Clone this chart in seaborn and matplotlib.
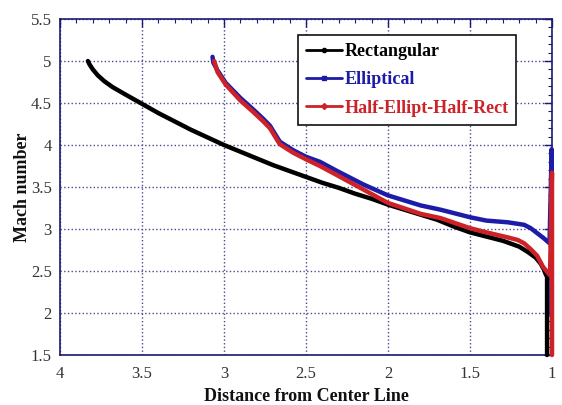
import matplotlib
matplotlib.use("Agg")
import matplotlib.pyplot as plt
from matplotlib.ticker import MultipleLocator, FuncFormatter
from matplotlib.lines import Line2D
import seaborn as sns
import pandas as pd

# ---- data ----
series_names = ["Rectangular", "Elliptical", "Half-Ellipt-Half-Rect"]

rect_x = [3.83, 3.82, 3.80, 3.77, 3.73, 3.68, 3.60, 3.50, 3.40, 3.30, 3.20, 3.10, 3.00,
          2.90, 2.80, 2.70, 2.60, 2.50, 2.40, 2.30, 2.20, 2.10, 2.00, 1.90, 1.80, 1.70,
          1.60, 1.50, 1.40, 1.30, 1.20, 1.15, 1.10, 1.07, 1.05, 1.04, 1.03, 1.03]
rect_y = [5.00, 4.96, 4.90, 4.83, 4.76, 4.69, 4.60, 4.49, 4.38, 4.28, 4.18, 4.09, 4.00,
          3.92, 3.84, 3.76, 3.69, 3.62, 3.55, 3.49, 3.42, 3.36, 3.29, 3.23, 3.17, 3.11,
          3.03, 2.96, 2.91, 2.86, 2.79, 2.73, 2.66, 2.59, 2.52, 2.47, 2.43, 1.50]

ell_x = [3.07, 3.065, 3.04, 2.99, 2.90, 2.82, 2.76, 2.72, 2.66, 2.58, 2.50, 2.415, 2.31,
         2.15, 2.00, 1.80, 1.68, 1.56, 1.50, 1.40, 1.27, 1.17, 1.13, 1.09, 1.05, 1.015,
         1.002, 1.004]
ell_y = [5.05, 4.98, 4.89, 4.74, 4.56, 4.42, 4.31, 4.23, 4.04, 3.94, 3.86, 3.80, 3.69,
         3.53, 3.40, 3.28, 3.23, 3.17, 3.14, 3.10, 3.08, 3.05, 3.01, 2.95, 2.89, 2.83,
         3.95, 1.97]

half_x = [3.06, 3.055, 3.04, 2.99, 2.90, 2.82, 2.76, 2.72, 2.66, 2.58, 2.50, 2.415, 2.31,
          2.15, 2.00, 1.80, 1.68, 1.50, 1.40, 1.27, 1.21, 1.17, 1.13, 1.09, 1.055, 1.03,
          1.012, 1.0, 1.0]
half_y = [5.00, 4.97, 4.87, 4.72, 4.53, 4.39, 4.28, 4.20, 4.01, 3.91, 3.83, 3.75, 3.64,
          3.47, 3.31, 3.18, 3.13, 3.01, 2.96, 2.90, 2.87, 2.83, 2.76, 2.68, 2.55, 2.49,
          2.45, 3.67, 1.50]

x_ticks = [4, 3.5, 3, 2.5, 2, 1.5, 1]
y_ticks = [1.5, 2, 2.5, 3, 3.5, 4, 4.5, 5, 5.5]

colors = ["#000000", "#1c1ca8", "#cc2228"]
markers = ["o", "s", "D"]

frames = []
for name, xs, ys in zip(series_names, [rect_x, ell_x, half_x], [rect_y, ell_y, half_y]):
    frames.append(pd.DataFrame({"x": xs, "y": ys, "series": name}))
df = pd.concat(frames, ignore_index=True)

# ---- style ----
sns.set_theme(style="white")
plt.rcParams["font.family"] = ["Liberation Serif", "DejaVu Serif"]

fig = plt.figure(figsize=(5.62, 4.05), dpi=100)
ax = fig.add_axes([0.1068, 0.1235, 0.8754, 0.8295])

sns.lineplot(data=df, x="x", y="y", hue="series", hue_order=series_names,
             palette=colors, sort=False, estimator=None, linewidth=3.2,
             legend=False, ax=ax)
for ln in ax.get_lines():
    ln.set_clip_on(False)
    ln.set_zorder(3)

ax.set_xlim(4, 1)
ax.set_ylim(1.5, 5.5)
ax.set_xticks(x_ticks)
ax.set_yticks(y_ticks)
ax.xaxis.set_minor_locator(MultipleLocator(0.1))
ax.yaxis.set_minor_locator(MultipleLocator(0.1))
fmt = FuncFormatter(lambda v, p: "%g" % v)
ax.xaxis.set_major_formatter(fmt)
ax.yaxis.set_major_formatter(fmt)

navy = "#1a1a70"
ax.grid(True, which="major", linestyle=":", color="#4a4a90", linewidth=1.0)
for s in ax.spines.values():
    s.set_color(navy)
    s.set_linewidth(1.2)
ax.tick_params(which="both", direction="in", top=True, right=True, color=navy,
               labelcolor="#333333", labelsize=12)
ax.tick_params(which="major", length=6, width=1)
ax.tick_params(which="minor", length=3, width=0.8)
ax.tick_params(axis="x", pad=8)
ax.tick_params(axis="y", pad=6)

ax.set_xlabel("Distance from Center Line", fontsize=13, fontweight="bold",
              color="#111111", labelpad=4)
ax.set_ylabel("Mach number", fontsize=13, fontweight="bold", color="#111111")
ax.yaxis.set_label_coords(-0.058, 0.5)

handles = [Line2D([0], [0], color=c, marker=m, markersize=3, linewidth=2)
           for c, m in zip(colors, markers)]
leg = ax.legend(handles, series_names, loc="upper left",
                bbox_to_anchor=(0.484, 0.952), borderaxespad=0, frameon=True,
                fancybox=False, framealpha=1, edgecolor="#111111", handlelength=2.0,
                handletextpad=0.1, borderpad=0.45, labelspacing=0.62,
                prop={"weight": "bold", "size": 13})
leg.set_zorder(5)
leg.get_frame().set_linewidth(1.2)
for t, c in zip(leg.get_texts(), colors):
    t.set_color(c)

fig.savefig("out.png", dpi=100)
